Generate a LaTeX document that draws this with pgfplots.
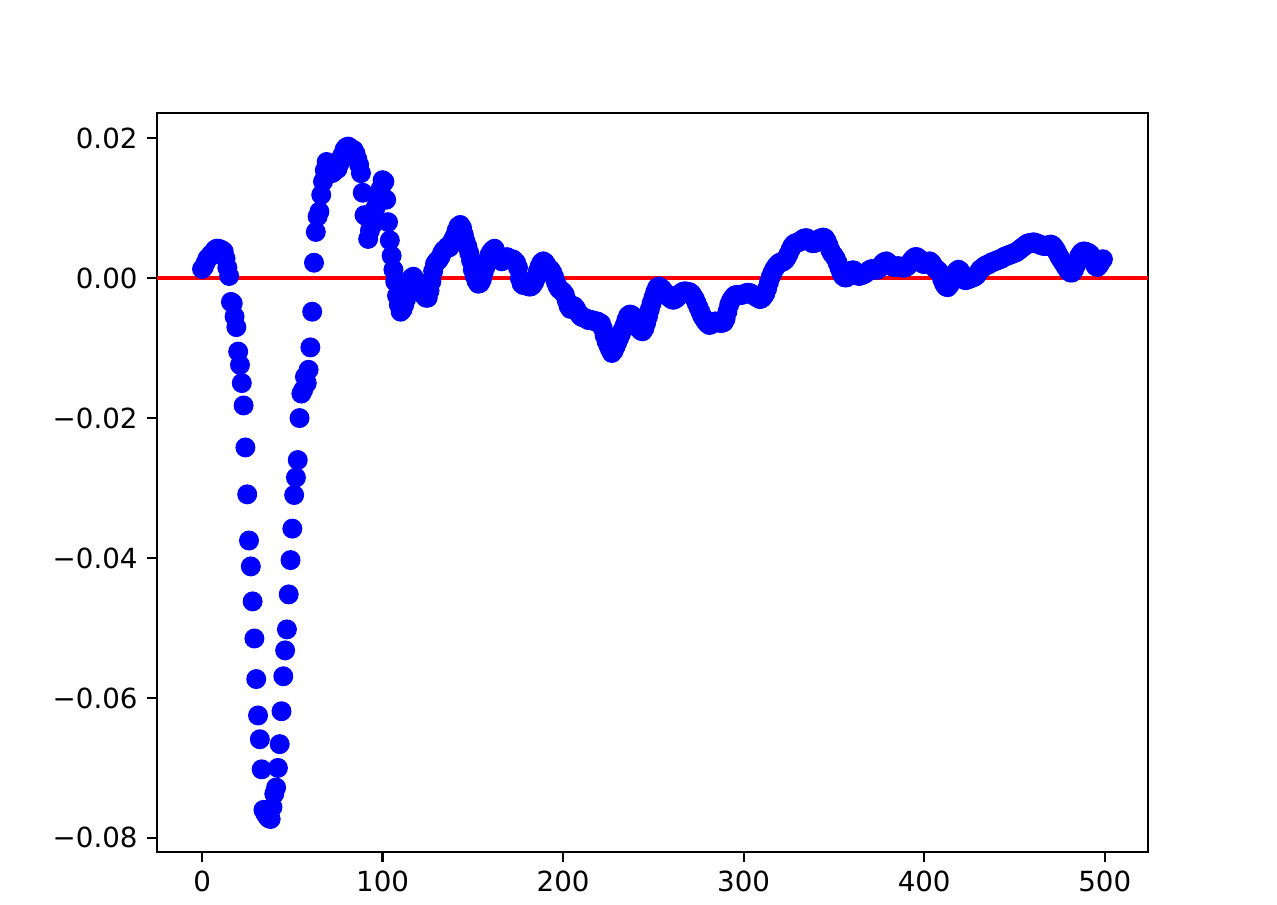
\documentclass[border=0pt]{standalone}
\usepackage{fontspec}
\setmainfont{DejaVu Sans}
\usepackage{pgfplots}
\pgfplotsset{compat=1.18}
\definecolor{mplblue}{rgb}{0,0,1}
\definecolor{mplred}{rgb}{1,0,0}
\begin{document}
\begin{tikzpicture}
\begin{axis}[
  scale only axis,
  width=357.8pt, height=266.8pt,
  xmin=-24.95, xmax=523.95,
  ymin=-0.0820, ymax=0.0236,
  axis line style={line width=0.8pt},
  tick align=outside, tick pos=left,
  major tick length=3.5pt,
  every tick/.style={black, line width=0.8pt},
  xtick={0,100,200,300,400,500},
  xticklabels={0,100,200,300,400,500},
  ytick={-0.08,-0.06,-0.04,-0.02,0,0.02},
  yticklabels={−0.08,−0.06,−0.04,−0.02,0.00,0.02},
  scaled y ticks=false, scaled x ticks=false,
  tick label style={font=\fontsize{10}{12}\selectfont},
  clip=true,
]
\addplot[only marks, mark=*, mark size=3.4pt, color=mplblue, mark options={draw=mplblue, fill=mplblue}] coordinates {
(0,0.0013) (1,0.0016) (2,0.0022) (3,0.0028) (4,0.0030) (5,0.0034) (6,0.0036) (7,0.0040) (8,0.0042) (9,0.0042)
(10,0.0041) (11,0.0040) (12,0.0038) (13,0.0028) (14,0.0015) (15,0.0003) (16,-0.0034) (17,-0.0036) (18,-0.0055) (19,-0.0070)
(20,-0.0105) (21,-0.0124) (22,-0.0150) (23,-0.0182) (24,-0.0242) (25,-0.0309) (26,-0.0375) (27,-0.0412) (28,-0.0462) (29,-0.0515)
(30,-0.0573) (31,-0.0625) (32,-0.0659) (33,-0.0702) (34,-0.0760) (35,-0.0765) (36,-0.0769) (37,-0.0772) (38,-0.0773) (39,-0.0756)
(40,-0.0737) (41,-0.0728) (42,-0.0700) (43,-0.0666) (44,-0.0619) (45,-0.0569) (46,-0.0532) (47,-0.0502) (48,-0.0452) (49,-0.0403)
(50,-0.0358) (51,-0.0310) (52,-0.0285) (53,-0.0260) (54,-0.0200) (55,-0.0165) (56,-0.0160) (57,-0.0141) (58,-0.0150) (59,-0.0131)
(60,-0.0099) (61,-0.0048) (62,0.0022) (63,0.0066) (64,0.0088) (65,0.0095) (66,0.0119) (67,0.0138) (68,0.0154) (69,0.0166)
(70,0.0158) (71,0.0152) (72,0.0150) (73,0.0152) (74,0.0158) (75,0.0156) (76,0.0163) (77,0.0172) (78,0.0177) (79,0.0184)
(80,0.0187) (81,0.0188) (82,0.0186) (83,0.0183) (84,0.0183) (85,0.0178) (86,0.0170) (87,0.0162) (88,0.0150) (89,0.0122)
(90,0.0090) (91,0.0088) (92,0.0056) (93,0.0068) (94,0.0084) (95,0.0078) (96,0.0100) (97,0.0112) (98,0.0120) (99,0.0128)
(100,0.0140) (101,0.0138) (102,0.0112) (103,0.0080) (104,0.0054) (105,0.0032) (106,0.0012) (107,-0.0005) (108,-0.0025) (109,-0.0038)
(110,-0.0048) (111,-0.0045) (112,-0.0038) (113,-0.0030) (114,-0.0020) (115,-0.0010) (116,0.0000) (117,0.0002) (118,-0.0003) (119,-0.0005)
(120,-0.0010) (121,-0.0015) (122,-0.0020) (123,-0.0025) (124,-0.0028) (125,-0.0028) (126,-0.0018) (127,-0.0005) (128,0.0010) (129,0.0020)
(130,0.0024) (131,0.0026) (132,0.0030) (133,0.0036) (134,0.0040) (135,0.0042) (136,0.0045) (137,0.0044) (138,0.0050) (139,0.0055)
(140,0.0060) (141,0.0068) (142,0.0074) (143,0.0076) (144,0.0072) (145,0.0062) (146,0.0052) (147,0.0045) (148,0.0036) (149,0.0025)
(150,0.0012) (151,0.0003) (152,-0.0004) (153,-0.0008) (154,-0.0007) (155,-0.0002) (156,0.0008) (157,0.0016) (158,0.0025) (159,0.0032)
(160,0.0037) (161,0.0040) (162,0.0042) (163,0.0036) (164,0.0030) (165,0.0026) (166,0.0024) (167,0.0026) (168,0.0028) (169,0.0030)
(170,0.0028) (171,0.0026) (172,0.0027) (173,0.0025) (174,0.0022) (175,0.0015) (176,0.0000) (177,-0.0008) (178,-0.0010) (179,-0.0009)
(180,-0.0010) (181,-0.0012) (182,-0.0012) (183,-0.0010) (184,-0.0006) (185,0.0000) (186,0.0010) (187,0.0017) (188,0.0022) (189,0.0024)
(190,0.0022) (191,0.0018) (192,0.0014) (193,0.0012) (194,0.0008) (195,0.0002) (196,-0.0006) (197,-0.0012) (198,-0.0016) (199,-0.0018)
(200,-0.0020) (201,-0.0024) (202,-0.0032) (203,-0.0040) (204,-0.0044) (205,-0.0042) (206,-0.0040) (207,-0.0043) (208,-0.0048) (209,-0.0052)
(210,-0.0055) (211,-0.0056) (212,-0.0057) (213,-0.0058) (214,-0.0060) (215,-0.0060) (216,-0.0060) (217,-0.0061) (218,-0.0062) (219,-0.0062)
(220,-0.0064) (221,-0.0065) (222,-0.0072) (223,-0.0082) (224,-0.0090) (225,-0.0096) (226,-0.0102) (227,-0.0107) (228,-0.0104) (229,-0.0098)
(230,-0.0092) (231,-0.0086) (232,-0.0080) (233,-0.0074) (234,-0.0068) (235,-0.0060) (236,-0.0054) (237,-0.0052) (238,-0.0053) (239,-0.0055)
(240,-0.0060) (241,-0.0066) (242,-0.0072) (243,-0.0075) (244,-0.0076) (245,-0.0072) (246,-0.0064) (247,-0.0055) (248,-0.0045) (249,-0.0036)
(250,-0.0028) (251,-0.0020) (252,-0.0014) (253,-0.0012) (254,-0.0014) (255,-0.0016) (256,-0.0020) (257,-0.0022) (258,-0.0025) (259,-0.0028)
(260,-0.0030) (261,-0.0031) (262,-0.0030) (263,-0.0028) (264,-0.0025) (265,-0.0022) (266,-0.0020) (267,-0.0019) (268,-0.0019) (269,-0.0020)
(270,-0.0020) (271,-0.0022) (272,-0.0026) (273,-0.0030) (274,-0.0036) (275,-0.0042) (276,-0.0048) (277,-0.0054) (278,-0.0058) (279,-0.0062)
(280,-0.0065) (281,-0.0067) (282,-0.0066) (283,-0.0064) (284,-0.0062) (285,-0.0062) (286,-0.0063) (287,-0.0064) (288,-0.0064) (289,-0.0063)
(290,-0.0058) (291,-0.0048) (292,-0.0038) (293,-0.0032) (294,-0.0028) (295,-0.0025) (296,-0.0024) (297,-0.0024) (298,-0.0024) (299,-0.0024)
(300,-0.0023) (301,-0.0022) (302,-0.0021) (303,-0.0021) (304,-0.0022) (305,-0.0024) (306,-0.0025) (307,-0.0027) (308,-0.0028) (309,-0.0030)
(310,-0.0029) (311,-0.0026) (312,-0.0022) (313,-0.0015) (314,-0.0006) (315,0.0002) (316,0.0008) (317,0.0013) (318,0.0017) (319,0.0020)
(320,0.0022) (321,0.0023) (322,0.0024) (323,0.0026) (324,0.0030) (325,0.0035) (326,0.0041) (327,0.0046) (328,0.0049) (329,0.0050)
(330,0.0051) (331,0.0052) (332,0.0054) (333,0.0056) (334,0.0057) (335,0.0057) (336,0.0055) (337,0.0052) (338,0.0050) (339,0.0050)
(340,0.0051) (341,0.0054) (342,0.0056) (343,0.0057) (344,0.0058) (345,0.0057) (346,0.0053) (347,0.0047) (348,0.0040) (349,0.0035)
(350,0.0032) (351,0.0028) (352,0.0022) (353,0.0015) (354,0.0008) (355,0.0003) (356,0.0001) (357,0.0001) (358,0.0004) (359,0.0008)
(360,0.0011) (361,0.0011) (362,0.0008) (363,0.0004) (364,0.0003) (365,0.0004) (366,0.0005) (367,0.0006) (368,0.0008) (369,0.0010)
(370,0.0012) (371,0.0013) (372,0.0013) (373,0.0012) (374,0.0012) (375,0.0014) (376,0.0017) (377,0.0021) (378,0.0023) (379,0.0024)
(380,0.0022) (381,0.0019) (382,0.0017) (383,0.0016) (384,0.0016) (385,0.0017) (386,0.0017) (387,0.0016) (388,0.0015) (389,0.0015)
(390,0.0016) (391,0.0018) (392,0.0021) (393,0.0025) (394,0.0028) (395,0.0030) (396,0.0030) (397,0.0028) (398,0.0024) (399,0.0021)
(400,0.0020) (401,0.0021) (402,0.0023) (403,0.0024) (404,0.0022) (405,0.0018) (406,0.0014) (407,0.0012) (408,0.0010) (409,0.0006)
(410,-0.0002) (411,-0.0008) (412,-0.0012) (413,-0.0013) (414,-0.0010) (415,-0.0004) (416,0.0002) (417,0.0006) (418,0.0010) (419,0.0012)
(420,0.0010) (421,0.0003) (422,-0.0002) (423,-0.0003) (424,-0.0002) (425,-0.0001) (426,0.0000) (427,0.0001) (428,0.0002) (429,0.0004)
(430,0.0008) (431,0.0012) (432,0.0014) (433,0.0016) (434,0.0018) (435,0.0019) (436,0.0020) (437,0.0022) (438,0.0023) (439,0.0024)
(440,0.0025) (441,0.0026) (442,0.0027) (443,0.0028) (444,0.0030) (445,0.0031) (446,0.0032) (447,0.0033) (448,0.0034) (449,0.0035)
(450,0.0036) (451,0.0037) (452,0.0039) (453,0.0041) (454,0.0043) (455,0.0045) (456,0.0047) (457,0.0049) (458,0.0050) (459,0.0050)
(460,0.0051) (461,0.0051) (462,0.0050) (463,0.0049) (464,0.0048) (465,0.0047) (466,0.0046) (467,0.0046) (468,0.0046) (469,0.0047)
(470,0.0048) (471,0.0047) (472,0.0044) (473,0.0040) (474,0.0035) (475,0.0030) (476,0.0026) (477,0.0022) (478,0.0018) (479,0.0014)
(480,0.0010) (481,0.0008) (482,0.0008) (483,0.0012) (484,0.0018) (485,0.0026) (486,0.0032) (487,0.0036) (488,0.0038) (489,0.0038)
(490,0.0037) (491,0.0036) (492,0.0034) (493,0.0030) (494,0.0022) (495,0.0017) (496,0.0016) (497,0.0019) (498,0.0024) (499,0.0027)
};
\addplot[mplred, line width=1.5pt] coordinates {(-24.95,0) (523.95,0)};
\end{axis}
\pgfresetboundingbox
\path[use as bounding box] ([shift={(-56.7pt,-19.1pt)}]current axis.south west) rectangle ([shift={(46.6pt,40.8pt)}]current axis.north east);
\end{tikzpicture}
\end{document}
